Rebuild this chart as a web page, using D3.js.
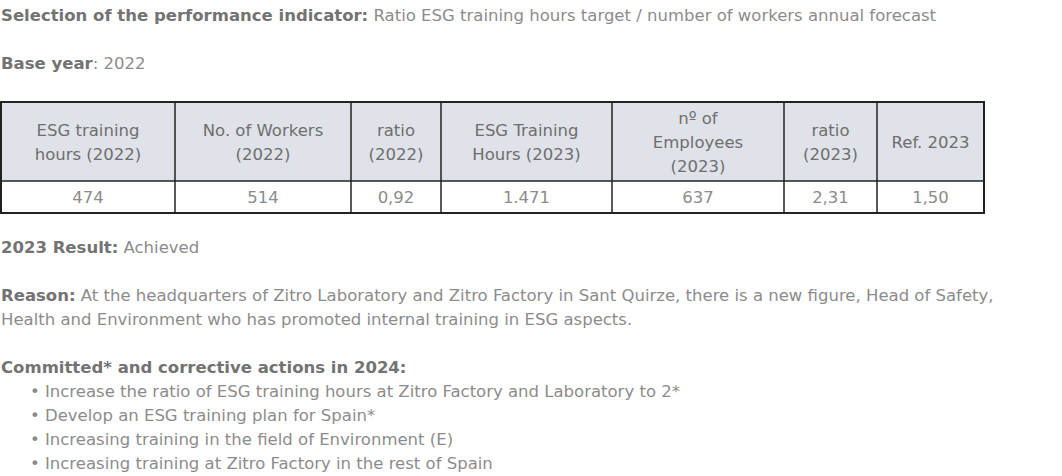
<!DOCTYPE html>
<html><head><meta charset="utf-8">
<script src="https://cdn.jsdelivr.net/npm/d3@7"></script>
<style>body{margin:0;background:#fff}text{font-family:"DejaVu Sans",sans-serif}</style>
</head><body><svg width="1062" height="476"></svg>
<script>
// Data
const headers = [["ESG training","hours (2022)"],["No. of Workers","(2022)"],["ratio","(2022)"],["ESG Training","Hours (2023)"],["nº of","Employees","(2023)"],["ratio","(2023)"],["Ref. 2023"]]
const values = ["474","514","0,92","1.471","637","2,31","1,50"]
const colEdges = [1,175,351,441,612,784,877,984]
const actions = ["Increase the ratio of ESG training hours at Zitro Factory and Laboratory to 2*","Develop an ESG training plan for Spain*","Increasing training in the field of Environment (E)","Increasing training at Zitro Factory in the rest of Spain"]

const svg = d3.select("svg")
const fs = 16.5, boldCol = "#737373", normCol = "#8c8c8c"

// Paragraph lines: [y, bold part, normal part]
const lines = [
    [21,"Selection of the performance indicator:"," Ratio ESG training hours target / number of workers annual forecast"],
    [69,"Base year",": 2022"],
    [253,"2023 Result:"," Achieved"],
    [301,"Reason:"," At the headquarters of Zitro Laboratory and Zitro Factory in Sant Quirze, there is a new figure, Head of Safety,"],
    [325,"","Health and Environment who has promoted internal training in ESG aspects."],
    [373,"Committed* and corrective actions in 2024:",""]
]
lines.forEach(l => {
    const t = svg.append("text").attr("x",1).attr("y",l[0]).attr("font-size",fs)
    t.append("tspan").attr("font-weight","bold").attr("fill",boldCol).text(l[1])
    t.append("tspan").attr("fill",normCol).text(l[2])
})
actions.forEach((a,i) => {
    svg.append("text").attr("x",30).attr("y",397+i*24).attr("font-size",fs).attr("fill",normCol).text("• " + a)
})

// Table
const y0 = 102, y1 = 181, y2 = 213
const g = svg.append("g")
g.append("rect").attr("x",1).attr("y",y0).attr("width",983).attr("height",y1-y0).attr("fill","#dfe2e8")
g.append("rect").attr("x",1).attr("y",y0).attr("width",983).attr("height",y2-y0).attr("fill","none").attr("stroke","#222").attr("stroke-width",2)
g.append("line").attr("x1",1).attr("x2",984).attr("y1",y1).attr("y2",y1).attr("stroke","#222").attr("stroke-width",1.5)
colEdges.slice(1,-1).forEach(x => g.append("line").attr("x1",x).attr("x2",x).attr("y1",y0).attr("y2",y2).attr("stroke","#222").attr("stroke-width",1.5))
headers.forEach((h,i) => {
    const cx = (colEdges[i]+colEdges[i+1])/2, cy = (y0+y1)/2
    h.forEach((s,j) => g.append("text").attr("x",cx).attr("y",cy + (j-(h.length-1)/2)*24 + 6)
        .attr("text-anchor","middle").attr("font-size",fs).attr("fill","#6e6e6e").text(s))
    g.append("text").attr("x",cx).attr("y",(y1+y2)/2+6).attr("text-anchor","middle").attr("font-size",fs).attr("fill",normCol).text(values[i])
})
</script></body></html>
